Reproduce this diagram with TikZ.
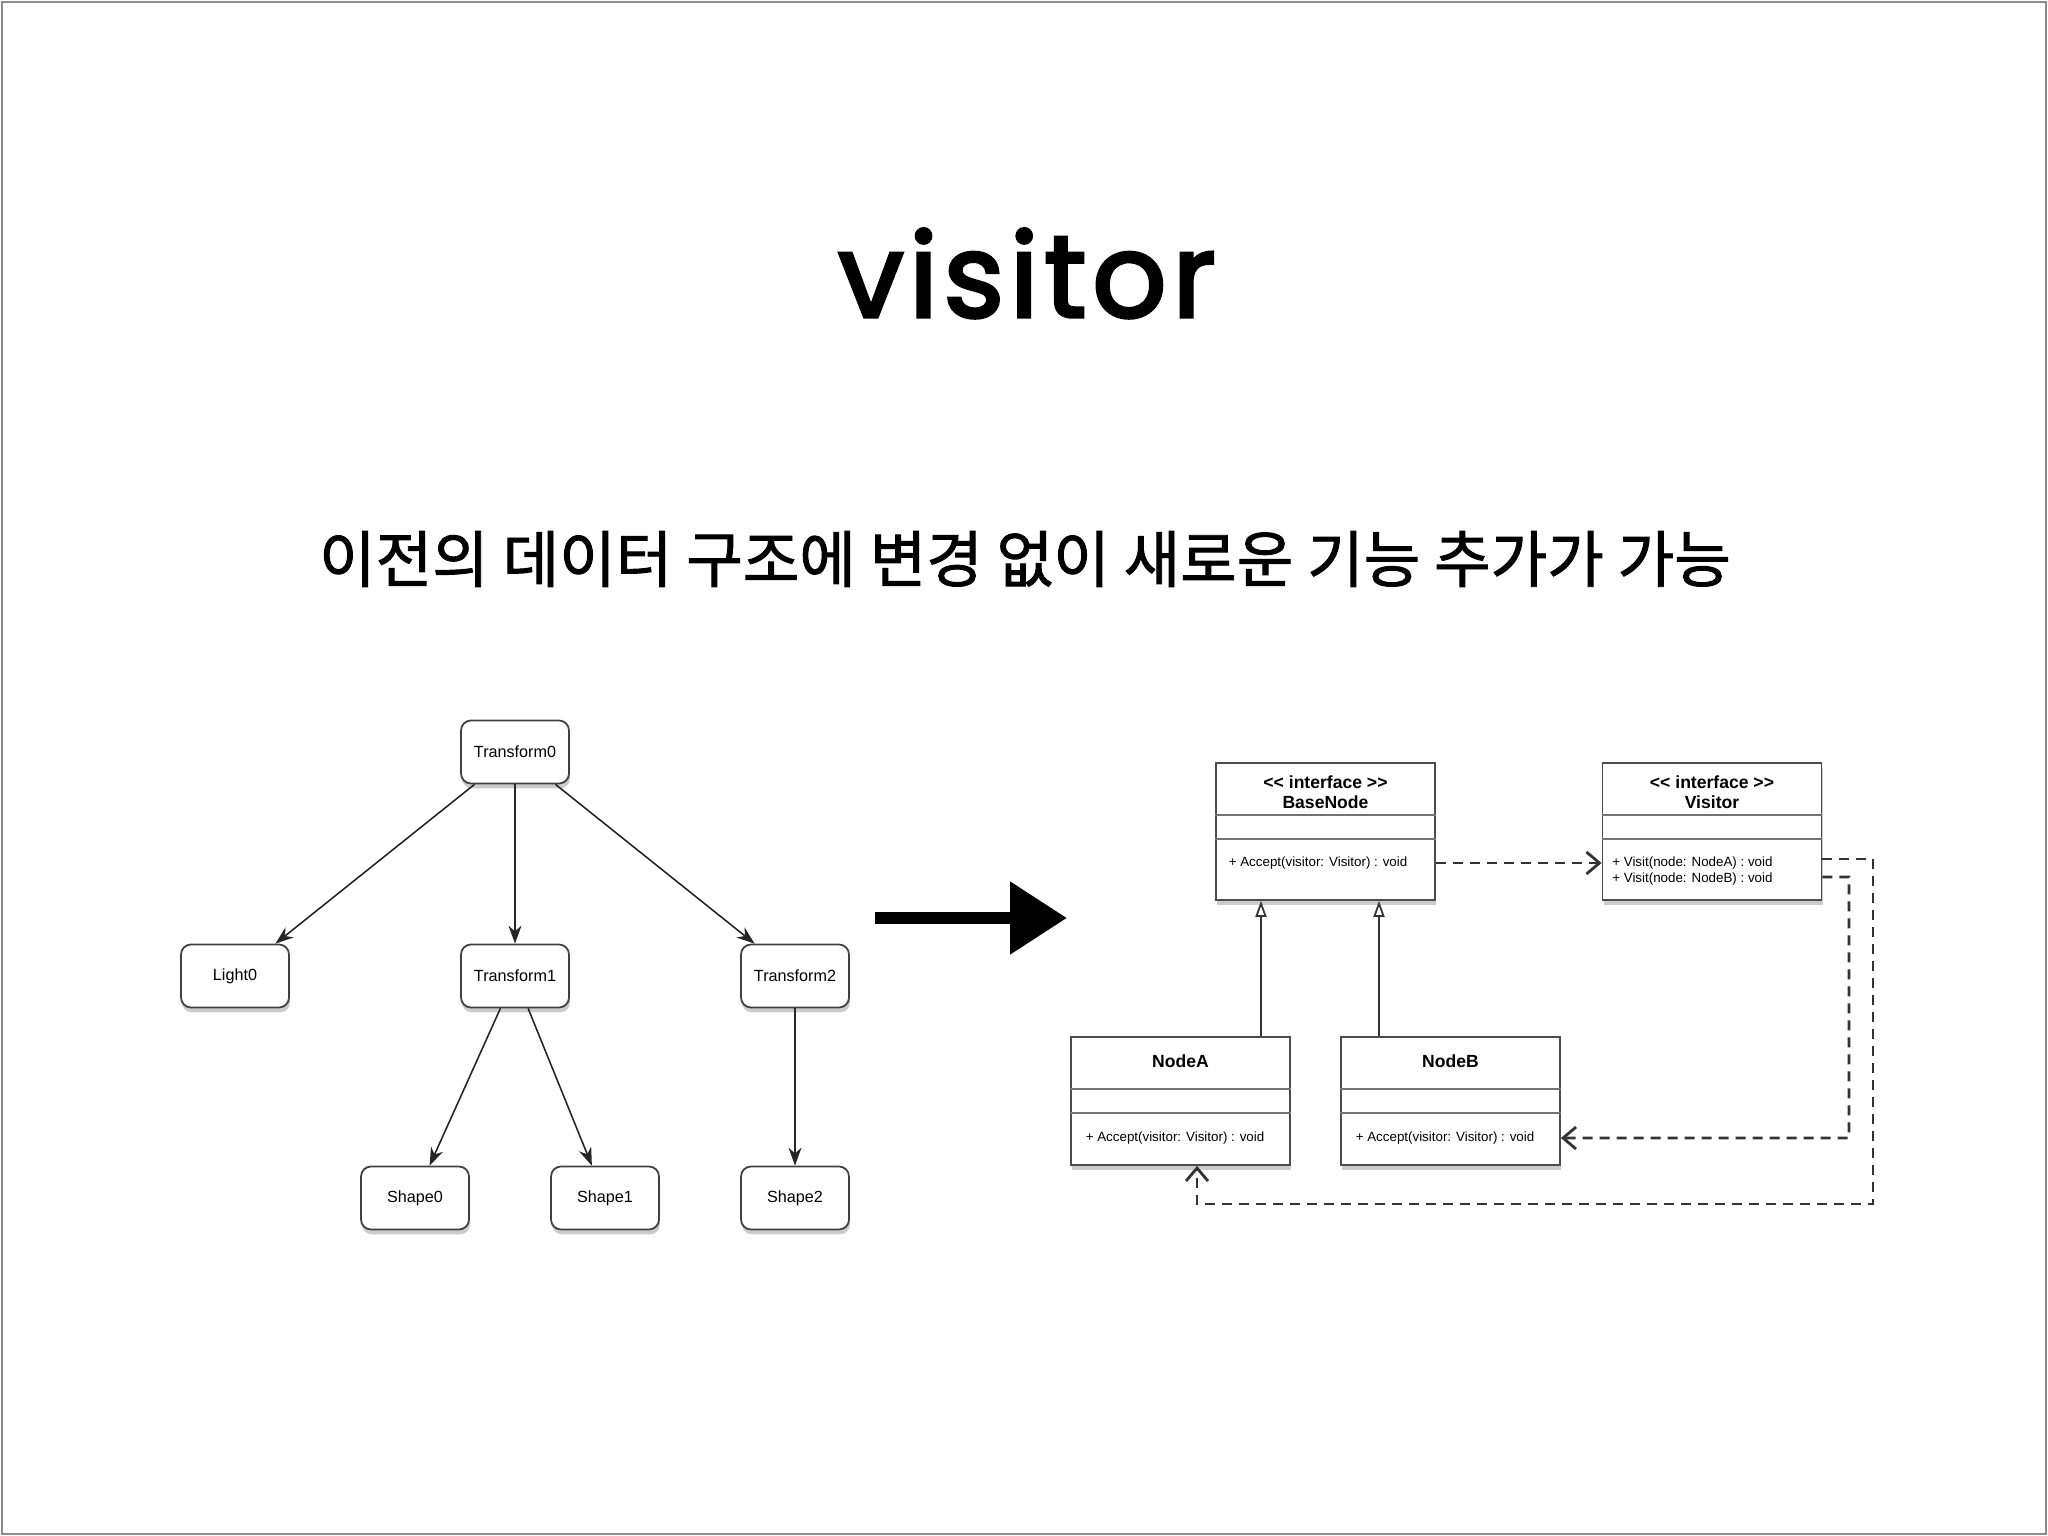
\documentclass[tikz,border=0pt]{standalone}
\usepackage{fontspec}
\setmainfont{Liberation Sans}
\newfontfamily\titlefont[LetterSpace=5, FakeBold=3]{Poppins}
\newfontfamily\krfont[FakeBold=1.5]{Noto Sans CJK KR}
\usetikzlibrary{arrows.meta,shadows,calc}

\begin{document}
\begin{tikzpicture}[
    tnode/.style={draw=black!75, fill=white, rounded corners=1mm, minimum width=1.08cm, minimum height=0.63cm,
      inner sep=0pt, line width=0.5pt, font=\fontsize{4.6}{5.5}\selectfont,
      drop shadow={opacity=0.4, shadow xshift=0.3pt, shadow yshift=-1.4pt}},
    arr/.style={-{Stealth[length=1.8mm, width=1.3mm]}, black!85, line width=0.45pt},
    cls/.style={draw=black!70, fill=white, minimum width=2.19cm, inner sep=0pt, line width=0.5pt,
      drop shadow={opacity=0.4, shadow xshift=0.3pt, shadow yshift=-1.4pt}},
    compline/.style={black!55, line width=0.4pt},
    ctitle/.style={font=\bfseries\fontsize{5}{5.7}\selectfont, align=center, inner sep=0pt},
    meth/.style={font=\fontsize{3.8}{4.55}\selectfont, align=left, inner sep=0pt, anchor=west},
    gen/.style={-{Triangle[open, length=1.6mm, width=1.1mm]}, black!80, line width=0.5pt},
    dep/.style={-{Straight Barb[length=1.3mm, width=2.2mm]}, dash pattern=on 1mm off 0.7mm, black!80, line width=0.8pt},
    hand/.style={-{Triangle[length=5.7mm, width=7mm]}, line width=3.4pt, black},
  ]
    \useasboundingbox (0,0) rectangle (20.48,-15.36);
    \draw[black!45, line width=0.8pt] (0.02,-0.02) rectangle (20.46,-15.34);

    % === Title ===
    \node[anchor=base, font=\titlefont\fontsize{33}{40}\selectfont] (title) at (10.27,-3.17) {visitor};
    \node[font=\krfont\fontsize{17.5}{20}\selectfont] (sub) at (10.25,-5.59)
      {이전의 데이터 구조에 변경 없이 새로운 기능 추가가 가능};

    % === Scene tree (left) ===
    \foreach \n/\x/\y/\t in {t0/5.15/-7.52/Transform0, light0/2.35/-9.76/Light0,
        t1/5.15/-9.76/Transform1, t2/7.95/-9.76/Transform2,
        s0/4.15/-11.98/Shape0, s1/6.05/-11.98/Shape1, s2/7.95/-11.98/Shape2} {
      \node[tnode] (\n) at (\x,\y) {\t};
    }
    \foreach \a/\b in {t0/light0, t0/t1, t0/t2, t1/s0, t1/s1, t2/s2} {
      \draw[arr] (\a) -- (\b);
    }

    % === Hand drawn arrow ===
    \coordinate (hstart) at (8.75,-9.18);
    \coordinate (hend) at (10.67,-9.18);
    \draw[hand] (hstart) -- (hend);

    % === Class diagram (right) ===
    \node[cls, minimum height=1.37cm] (base) at (13.255,-8.315) {};
    \node[cls, minimum height=1.37cm] (visitor) at (17.12,-8.315) {};
    \node[cls, minimum height=1.28cm] (nodea) at (11.805,-11.01) {};
    \node[cls, minimum height=1.28cm] (nodeb) at (14.505,-11.01) {};

    % compartments
    \foreach \b in {base, visitor, nodea, nodeb} {
      \draw[compline] ($(\b.north west)+(0,-0.53)$) -- ($(\b.north east)+(0,-0.53)$);
      \draw[compline] ($(\b.north west)+(0,-0.77)$) -- ($(\b.north east)+(0,-0.77)$);
    }

    \node[ctitle] (basetitle) at ($(base.north)+(0,-0.30)$) {{<}{<} interface {>}{>}\\BaseNode};
    \node[ctitle] (visitortitle) at ($(visitor.north)+(0,-0.30)$) {{<}{<} interface {>}{>}\\Visitor};
    \node[ctitle] (nodeatitle) at ($(nodea.north)+(0,-0.25)$) {NodeA};
    \node[ctitle] (nodebtitle) at ($(nodeb.north)+(0,-0.25)$) {NodeB};

    \node[meth] (basemeth) at ($(base.west)+(0.13,-0.315)$) {+ Accept(visitor: Visitor) : void};
    \node[meth] (visitormeth) at ($(visitor.west)+(0.10,-0.395)$)
      {+ Visit(node: NodeA) : void\\+ Visit(node: NodeB) : void};
    \node[meth] (nodeameth) at ($(nodea.west)+(0.15,-0.37)$) {+ Accept(visitor: Visitor) : void};
    \node[meth] (nodebmeth) at ($(nodeb.west)+(0.15,-0.37)$) {+ Accept(visitor: Visitor) : void};

    % generalization
    \draw[gen] ([xshift=0.805cm]nodea.north) -- ([xshift=0.805cm]nodea.north |- base.south);
    \draw[gen] ([xshift=-0.715cm]nodeb.north) -- ([xshift=-0.715cm]nodeb.north |- base.south);

    % dependencies
    \coordinate (loopa) at (18.73,-12.04);
    \coordinate (loopb) at (18.49,-11.38);
    \draw[dep] ([yshift=-0.315cm]base.east) -- ([yshift=-0.315cm]visitor.west);
    \draw[dep] ([yshift=-0.275cm]visitor.east) -| (loopa) -| ([xshift=0.165cm]nodea.south);
    \draw[dep] ([yshift=-0.455cm]visitor.east) -| (loopb) -- ([yshift=-0.37cm]nodeb.east);
  \end{tikzpicture}
\end{document}
